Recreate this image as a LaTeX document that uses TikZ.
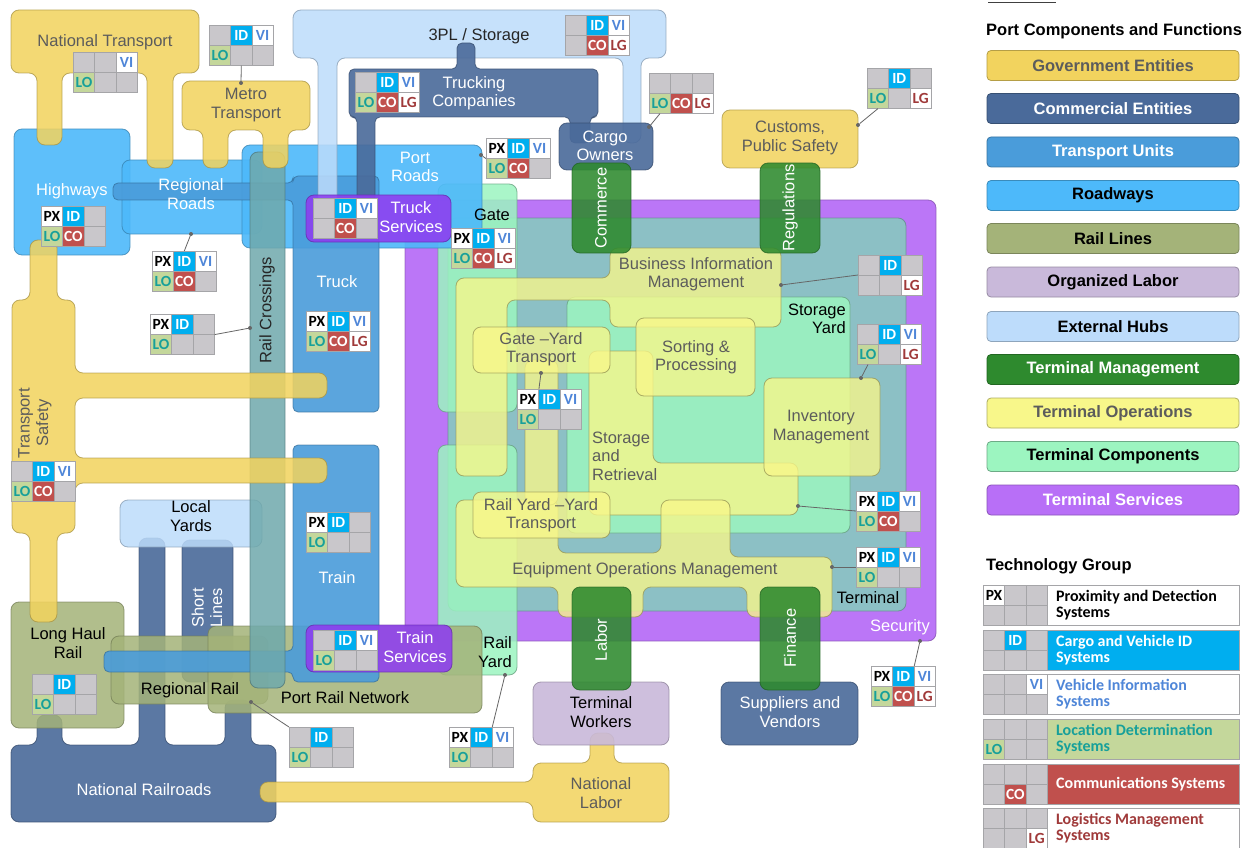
\documentclass[tikz,border=0pt]{standalone}
\usepackage{fontspec}
\setmainfont{Liberation Sans}
\newfontfamily\carlito{Carlito}
\definecolor{govY}{HTML}{F2D35E}
\definecolor{comB}{HTML}{4A6A9A}
\definecolor{trU}{HTML}{4A9CDA}
\definecolor{roadB}{HTML}{4DB9FA}
\definecolor{railO}{HTML}{A4B379}
\definecolor{labP}{HTML}{C9B9DA}
\definecolor{extH}{HTML}{BDDCFB}
\definecolor{tmG}{HTML}{2E8A2E}
\definecolor{toY}{HTML}{F8F78A}
\definecolor{tcM}{HTML}{9CF5C0}
\definecolor{tsP}{HTML}{B86FF7}
\definecolor{termT}{HTML}{8AC4C3}
\definecolor{svcV}{HTML}{8E3DF0}
\definecolor{rcT}{HTML}{6FA9AC}
\definecolor{cellG}{HTML}{C9C7CB}
\definecolor{cellB}{HTML}{A5A5A8}
\definecolor{idC}{HTML}{00AEEF}
\definecolor{viT}{HTML}{4F86D8}
\definecolor{loB}{HTML}{C4D79B}
\definecolor{loT}{HTML}{17A09A}
\definecolor{coR}{HTML}{C0504D}
\definecolor{lgT}{HTML}{A03A3A}
\definecolor{txG}{HTML}{5C5C5C}
\newcommand{\lblfont}{\fontsize{16.5}{18.5}\selectfont}
\newcommand{\legfont}{\bfseries\fontsize{16.5}{19}\selectfont}
\newcommand{\codefont}{\carlito\bfseries\fontsize{15.5}{16}\selectfont}
\newcommand{\legtfont}{\carlito\bfseries\fontsize{16}{15.5}\selectfont}
\def\txtPX{PX}\def\txtID{ID}\def\txtVI{VI}\def\txtLO{LO}\def\txtCO{CO}\def\txtLG{LG}\def\txtG{}
\newcommand{\tbox}[9]{%
\node[cell,c#4] (#1a) at (#2,#3) {\csname txt#4\endcsname};
\node[cell,c#5] (#1b) at ({#2+21.33},#3) {\csname txt#5\endcsname};
\node[cell,c#6] (#1c) at ({#2+42.67},#3) {\csname txt#6\endcsname};
\node[cell,c#7] (#1d) at (#2,{#3+20}) {\csname txt#7\endcsname};
\node[cell,c#8] (#1e) at ({#2+21.33},{#3+20}) {\csname txt#8\endcsname};
\node[cell,c#9] (#1f) at ({#2+42.67},{#3+20}) {\csname txt#9\endcsname};
}
\tikzset{
 shp/.style={rounded corners=8pt, line width=0.8pt, fill opacity=0.9, draw opacity=0.75},
 gov/.style={shp, fill=govY, draw=govY!70!black, fill opacity=0.86},
 com/.style={shp, fill=comB, draw=comB!70!black},
 tru/.style={shp, fill=trU, draw=trU!70!black},
 road/.style={shp, fill=roadB, draw=roadB!70!black},
 rail/.style={shp, fill=railO, draw=railO!70!black, fill opacity=0.85},
 lab/.style={shp, fill=labP, draw=labP!70!black},
 ext/.style={shp, fill=extH, draw=extH!70!black, fill opacity=0.85},
 tmg/.style={shp, fill=tmG, draw=tmG!70!black, fill opacity=0.88},
 tops/.style={shp, fill=toY, draw=toY!60!black, fill opacity=0.78},
 tcomp/.style={shp, fill=tcM, draw=tcM!65!black, fill opacity=0.85},
 tsvc/.style={shp, fill=tsP, draw=tsP!70!black, fill opacity=0.95},
 svcbox/.style={shp, fill=svcV, draw=svcV!70!black, fill opacity=0.88},
 lbl/.style={font=\lblfont, align=center, inner sep=0pt},
 cell/.style={draw=cellB, line width=0.6pt, minimum width=21.33pt, minimum height=20pt, inner sep=0pt, anchor=north west, font=\codefont},
 cG/.style={fill=cellG}, cPX/.style={fill=white,text=black}, cID/.style={fill=idC,text=white},
 cVI/.style={fill=white,text=viT}, cLO/.style={fill=loB,text=loT}, cCO/.style={fill=coR,text=white},
 cLG/.style={fill=white,text=lgT},
 conn/.style={draw=black!60, line width=0.8pt},
 dot/.style={circle, fill=black!60, inner sep=0pt, minimum size=4pt},
 legbox/.style={rounded corners=4pt, line width=0.8pt, minimum width=252pt, minimum height=30pt, inner sep=0pt, font=\legfont},
 legt/.style={draw=cellB, line width=0.6pt, anchor=north west, minimum width=192pt, minimum height=40pt, inner sep=0pt},
 legtxt/.style={anchor=west, align=left, inner sep=0pt, font=\legtfont}
}
\begin{document}
\begin{tikzpicture}[x=1pt,y=-1pt]
\useasboundingbox (0,0) rectangle (1251,848);
\fill[white] (0,0) rectangle (1251,848);
% ---------- terminal ----------
\path[tsvc] (405,200) rectangle (936,641);
\path[shp, fill=termT, draw=termT!70!black, fill opacity=0.95] (448,218) rectangle (906,611);
\path[tcomp] (567,297) rectangle (850,533);
\path[tcomp] (438,184) rectangle (517,412);
\path[tcomp] (438,445) rectangle (517,675);
\path[tops] (456,278) -- (610,278) -- (610,248) -- (781,248) -- (781,327) -- (610,327) -- (610,300) -- (507,300) -- (507,476) -- (456,476) -- cycle;
\path[tops] (589,351) -- (653,351) -- (653,463) -- (798,463) -- (798,515) -- (589,515) -- cycle;
\path[tops] (764,378) rectangle (880,476);
\path[tops] (636,318) rectangle (755,396);
\path[tops] (456,500) -- (558,500) -- (558,553) -- (661,553) -- (661,500) -- (730,500) -- (730,557) -- (832,557) -- (832,617) -- (747,617) -- (747,587) -- (643,587) -- (643,617) -- (558,617) -- (558,587) -- (456,587) -- cycle;
\path[tops] (525,360) rectangle (558,505);
\path[tops] (473,327) rectangle (610,373);
\path[tops] (473,492) rectangle (610,538);
% ---------- rail / commercial lower ----------
\path[com] (11,745) -- (37,745) -- (37,715) -- (62,715) -- (62,745) -- (139,745) -- (139,538) -- (165,538) -- (165,745) -- (225,745) -- (225,700) -- (251,700) -- (251,745) -- (276,745) -- (276,822) -- (11,822) -- cycle;
\path[com] (182,540) rectangle (233,682);
\path[ext] (120,500) rectangle (262,547);
% ---------- roadways ----------
\path[road] (14,129) rectangle (130,255);
\path[road] (122,160) rectangle (262,234);
\path[road] (242,145) rectangle (482,248);
% ---------- rail lines ----------
\path[rail] (11,602) rectangle (124,728);
\path[rail] (111,636) rectangle (268,704);
\path[rail] (208,626) rectangle (482,713);
% ---------- transport units ----------
\path[tru, rounded corners=5pt] (113,183) -- (293,183) -- (293,176) -- (379,176) -- (379,412) -- (293,412) -- (293,200) -- (113,200) -- cycle;
\path[tru, rounded corners=5pt] (104,651) -- (293,651) -- (293,445) -- (379,445) -- (379,682) -- (293,682) -- (293,672) -- (104,672) -- cycle;
\path[shp, fill=rcT, draw=rcT!70!black, fill opacity=0.85] (250,152) rectangle (285,688);
% ---------- hubs / commercial upper ----------
\path[ext] (293,10) -- (666,10) -- (666,58) -- (641,58) -- (641,143) -- (623,143) -- (623,58) -- (337,58) -- (337,205) -- (318,205) -- (318,58) -- (293,58) -- cycle;
\path[com, rounded corners=5pt] (349,69) -- (457,69) -- (457,43) -- (475,43) -- (475,69) -- (598,69) -- (598,117) -- (590,117) -- (590,143) -- (570,143) -- (570,117) -- (375,117) -- (375,205) -- (357,205) -- (357,117) -- (349,117) -- cycle;
\path[com] (559,123) rectangle (653,170);
% ---------- government ----------
\path[gov] (11,10) -- (199,10) -- (199,73) -- (173,73) -- (173,168) -- (147,168) -- (147,73) -- (62,73) -- (62,145) -- (37,145) -- (37,73) -- (11,73) -- cycle;
\path[gov] (182,81) -- (310,81) -- (310,130) -- (288,130) -- (288,168) -- (263,168) -- (263,130) -- (228,130) -- (228,168) -- (203,168) -- (203,130) -- (182,130) -- cycle;
\path[gov] (30,240) -- (57,240) -- (57,300) -- (75,300) -- (75,373) -- (327,373) -- (327,398) -- (75,398) -- (75,458) -- (327,458) -- (327,483) -- (75,483) -- (75,533) -- (57,533) -- (57,622) -- (30,622) -- (30,533) -- (12,533) -- (12,300) -- (30,300) -- cycle;
\path[gov] (722,110) rectangle (858,168);
\path[gov] (260,782) -- (533,782) -- (533,763) -- (590,763) -- (590,733) -- (614,733) -- (614,763) -- (669,763) -- (669,822) -- (533,822) -- (533,802) -- (260,802) -- cycle;
% ---------- services ----------
\path[svcbox] (306,195) rectangle (451,242);
\path[svcbox] (306,625) rectangle (452,672);
\path[lab] (533,682) rectangle (669,745);
\path[com] (721,682) rectangle (858,745);
% ---------- terminal management ----------
\path[tmg] (572,163) rectangle (631,253);
\path[tmg] (760,163) rectangle (820,253);
\path[tmg] (572,587) rectangle (631,690);
\path[tmg] (760,587) rectangle (820,690);
% ---------- labels ----------
\node[lbl, text=txG] (Lnt) at (105,42) {National Transport};
\node[lbl, text=txG] (Lmt) at (246,105) {Metro\\Transport};
\node[lbl, text=white] (Lhw) at (72,191) {Highways};
\node[lbl, text=white] (Lrr) at (191,194) {Regional\\Roads};
\node[lbl, text=white] (Lpr) at (415,167) {Port\\Roads};
\node[lbl, text=black!85] (Ltpl) at (479,36) {3PL / Storage};
\node[lbl, text=white] (Ltc) at (474,93) {Trucking\\Companies};
\node[lbl, text=white] (Lco) at (605,146) {Cargo\\Owners};
\node[lbl, text=txG] (Lcu) at (790,138) {Customs,\\Public Safety};
\node[lbl, text=white, rotate=90] (Lcom) at (601,208) {Commerce};
\node[lbl, text=white, rotate=90] (Lreg) at (790,208) {Regulations};
\node[lbl, text=white] (Ltsv) at (411,217) {Truck\\Services};
\node[lbl, text=black] (Lgt) at (492,215) {Gate};
\node[lbl, text=white] (Ltk) at (337,282) {Truck};
\node[lbl, text=black!85, rotate=90] (Lrc) at (267,310) {Rail Crossings};
\node[lbl, text=txG, rotate=90] (Ltsf) at (35,423) {Transport\\Safety};
\node[lbl, text=txG] (Lbim) at (696,274) {Business Information\\Management};
\node[lbl, text=black, anchor=east, align=right] (Lsy) at (846,319) {Storage\\Yard};
\node[lbl, text=txG] (Lgy) at (541,349) {Gate –Yard\\Transport};
\node[lbl, text=txG] (Lsp) at (696,357) {Sorting \&\\Processing};
\node[lbl, text=txG] (Linv) at (821,427) {Inventory\\Management};
\node[lbl, text=txG, anchor=west, align=left] (Lsr) at (592,456) {Storage\\and\\Retrieval};
\node[lbl, text=txG] (Lryy) at (541,515) {Rail Yard –Yard\\Transport};
\node[lbl, text=txG] (Leom) at (645,570) {Equipment Operations Management};
\node[lbl, text=black] (Lterm) at (868,598) {Terminal};
\node[lbl, text=white] (Lsec) at (900,627) {Security};
\node[lbl, text=black] (Lly) at (191,516) {Local\\Yards};
\node[lbl, text=white, rotate=90] (Lsl) at (207,608) {Short\\Lines};
\node[lbl, text=white] (Ltr) at (337,578) {Train};
\node[lbl, text=white] (Ltrs) at (415,647) {Train\\Services};
\node[lbl, text=black, anchor=east, align=right] (Lry) at (512,652) {Rail\\Yard};
\node[lbl, text=black] (Llh) at (68,643) {Long Haul\\Rail};
\node[lbl, text=black] (Lrgr) at (190,690) {Regional Rail};
\node[lbl, text=black] (Lprn) at (345,698) {Port Rail Network};
\node[lbl, text=white] (Lnr) at (144,790) {National Railroads};
\node[lbl, text=white, rotate=90] (Llab) at (601,640) {Labor};
\node[lbl, text=white, rotate=90] (Lfin) at (790,638) {Finance};
\node[lbl, text=black] (Ltw) at (601,712) {Terminal\\Workers};
\node[lbl, text=white] (Lsv) at (790,712) {Suppliers and\\Vendors};
\node[lbl, text=txG] (Lnl) at (601,793) {National\\Labor};
% ---------- technology boxes ----------
\tbox{nt}{73}{52}{G}{G}{VI}{LO}{G}{G}
\tbox{mt}{209}{25}{G}{ID}{VI}{LO}{G}{G}
\tbox{hw}{41}{206}{PX}{ID}{G}{LO}{CO}{G}
\tbox{rr}{152}{251}{PX}{ID}{VI}{LO}{CO}{G}
\tbox{rc}{150}{314}{PX}{ID}{G}{LO}{G}{G}
\tbox{pr}{486}{138}{PX}{ID}{VI}{LO}{CO}{G}
\tbox{tpl}{565}{15}{G}{ID}{VI}{G}{CO}{LG}
\tbox{tc}{355}{72}{G}{ID}{VI}{LO}{CO}{LG}
\tbox{co}{649}{73}{G}{G}{G}{LO}{CO}{LG}
\tbox{cu}{867}{68}{G}{ID}{G}{LO}{G}{LG}
\tbox{tsv}{313}{198}{G}{ID}{VI}{G}{CO}{G}
\tbox{gt}{451}{228}{PX}{ID}{VI}{LO}{CO}{LG}
\tbox{tk}{306}{311}{PX}{ID}{VI}{LO}{CO}{LG}
\tbox{tsf}{11}{461}{G}{ID}{VI}{LO}{CO}{G}
\tbox{bim}{858}{255}{G}{ID}{G}{G}{G}{LG}
\tbox{inv}{857}{324}{G}{ID}{VI}{LO}{G}{LG}
\tbox{gy}{517}{389}{PX}{ID}{VI}{LO}{G}{G}
\tbox{sr}{856}{491}{PX}{ID}{VI}{LO}{CO}{G}
\tbox{eom}{856}{547}{PX}{ID}{VI}{LO}{G}{G}
\tbox{sec}{871}{666}{PX}{ID}{VI}{LO}{CO}{LG}
\tbox{tr}{306}{512}{PX}{ID}{G}{LO}{G}{G}
\tbox{trs}{313}{630}{G}{ID}{VI}{LO}{G}{G}
\tbox{lh}{32}{674}{G}{ID}{G}{LO}{G}{G}
\tbox{prn}{289}{727}{G}{ID}{G}{LO}{G}{G}
\tbox{ry}{449}{727}{PX}{ID}{VI}{LO}{G}{G}
% ---------- connectors ----------
\node[dot] (mtdot) at (241,83) {}; \draw[conn] (mte.south) -- (mtdot);
\node[dot] (rrdot) at (191,234) {}; \draw[conn] (rrb.north) -- (rrdot);
\node[dot] (rcdot) at (250,328) {}; \draw[conn] (rcc.south east) -- (rcdot);
\node[dot] (prdot) at (481,155) {}; \draw[conn] (prdot) -- (pra.south west);
\node[dot] (codot) at (649,127) {}; \draw[conn] (codot) -- (cod.south);
\node[dot] (cudot) at (858,125) {}; \draw[conn] (cudot) -- (cud.south);
\node[dot] (bimdot) at (781,285) {}; \draw[conn] (bimdot) -- (bimd.north west);
\node[dot] (invdot) at (861,378) {}; \draw[conn] (invd.south) -- (invdot);
\node[dot] (gydot) at (541,373) {}; \draw[conn] (gydot) -- (gya.north east);
\node[dot] (srdot) at (798,506) {}; \draw[conn] (srdot) -- (srd.north west);
\node[dot] (eomdot) at (832,567) {}; \draw[conn] (eomdot) -- (eomd.north west);
\node[dot] (secdot) at (920,641) {}; \draw[conn] (secdot) -- (secb.north east);
\node[dot] (prndot) at (251,702) {}; \draw[conn] (prndot) -- (prna.north west);
\node[dot] (rydot) at (505,675) {}; \draw[conn] (rydot) -- (ryb.north east);
% ---------- legend ----------
\draw[black!75, line width=0.8pt] (988,2) -- (1056,2);
\node[anchor=west, inner sep=0pt, font=\legfont] (Lpcf) at (986,31) {Port Components and Functions};
\node[legbox, fill=govY, draw=govY!75!black, text=txG] (lg1) at (1113,65.5) {Government Entities};
\node[legbox, fill=comB, draw=comB!75!black, text=white] (lg2) at (1113,108.5) {Commercial Entities};
\node[legbox, fill=trU, draw=trU!75!black, text=white] (lg3) at (1113,152) {Transport Units};
\node[legbox, fill=roadB, draw=roadB!75!black, text=black] (lg4) at (1113,195.5) {Roadways};
\node[legbox, fill=railO, draw=railO!75!black, text=black] (lg5) at (1113,238.5) {Rail Lines};
\node[legbox, fill=labP, draw=labP!75!black, text=black] (lg6) at (1113,282) {Organized Labor};
\node[legbox, fill=extH, draw=extH!75!black, text=black] (lg7) at (1113,326.5) {External Hubs};
\node[legbox, fill=tmG, draw=tmG!75!black, text=white] (lg8) at (1113,369.5) {Terminal Management};
\node[legbox, fill=toY, draw=toY!70!black, text=txG] (lg9) at (1113,413) {Terminal Operations};
\node[legbox, fill=tcM, draw=tcM!70!black, text=black] (lg10) at (1113,456.5) {Terminal Components};
\node[legbox, fill=tsP, draw=tsP!75!black, text=white] (lg11) at (1113,500) {Terminal Services};
\node[anchor=west, inner sep=0pt, font=\legfont] (Ltg) at (986,566) {Technology Group};
\tbox{la}{983}{585}{PX}{G}{G}{G}{G}{G}
\tbox{lb}{983}{630}{G}{ID}{G}{G}{G}{G}
\tbox{lc}{983}{674}{G}{G}{VI}{G}{G}{G}
\tbox{ld}{983}{719}{G}{G}{G}{LO}{G}{G}
\tbox{le}{983}{764}{G}{G}{G}{G}{CO}{G}
\tbox{lf}{983}{808}{G}{G}{G}{G}{G}{LG}
\node[legt, fill=white] (lta) at (1047,585) {};
\node[legt, fill=idC] (ltb) at (1047,630) {};
\node[legt, fill=white] (ltc) at (1047,674) {};
\node[legt, fill=loB] (ltd) at (1047,719) {};
\node[legt, fill=coR] (lte) at (1047,764) {};
\node[legt, fill=white] (ltf) at (1047,808) {};
\node[legtxt, text=black] (ltat) at (1056,605) {Proximity and Detection\\Systems};
\node[legtxt, text=white] (ltbt) at (1056,650) {Cargo and Vehicle ID\\Systems};
\node[legtxt, text=viT] (ltct) at (1056,694) {Vehicle Information\\Systems};
\node[legtxt, text=loT] (ltdt) at (1056,739) {Location Determination\\Systems};
\node[legtxt, text=white] (ltet) at (1056,784) {Communications Systems};
\node[legtxt, text=lgT] (ltft) at (1056,828) {Logistics Management\\Systems};
\end{tikzpicture}
\end{document}
